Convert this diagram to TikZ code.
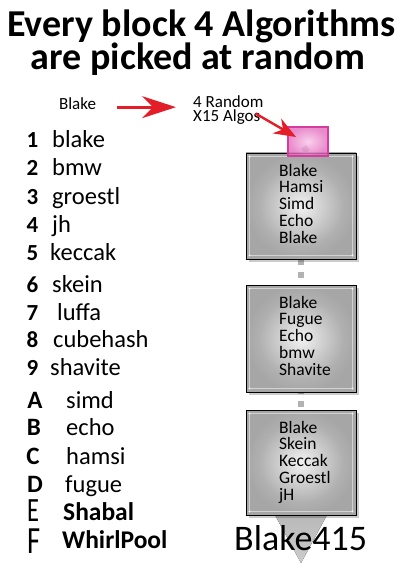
\documentclass[tikz,border=0pt]{standalone}
\usepackage{fontspec}
\setmainfont{Carlito}
\usetikzlibrary{arrows.meta,shadows,backgrounds}
\definecolor{arrowred}{RGB}{228,30,40}
\definecolor{pinkedge}{RGB}{214,60,160}
\definecolor{pinkin}{RGB}{248,196,232}
\definecolor{pinkout}{RGB}{226,110,190}
\definecolor{boxc}{RGB}{242,242,242}
\definecolor{boxm}{RGB}{210,210,210}
\definecolor{boxo}{RGB}{176,176,176}
\definecolor{boxe}{RGB}{166,166,166}
\pgfdeclareradialshading{boxglow}{\pgfpoint{0bp}{0bp}}{color(0bp)=(boxc); color(9bp)=(boxm); color(19bp)=(boxo); color(25bp)=(boxe); color(50bp)=(boxe)}
\begin{document}
\begin{tikzpicture}[x=1pt,y=-1pt,
  titletext/.style={font=\fontsize{38}{38}\selectfont\bfseries,anchor=base,inner sep=0pt},
  smalltext/.style={font=\fontsize{17}{14}\selectfont,inner sep=0pt},
  digitnum/.style={font=\fontsize{23}{23}\selectfont\bfseries,anchor=base,inner sep=0pt},
  letternum/.style={font=\fontsize{25}{25}\selectfont\bfseries,anchor=base,inner sep=0pt},
  thinletter/.style={anchor=base,inner sep=0pt},
  algoname/.style={font=\fontsize{24.5}{24.5}\selectfont,anchor=base west,inner sep=0pt},
  boldalgo/.style={font=\fontsize{25.5}{25.5}\selectfont\bfseries,anchor=base west,inner sep=0pt},
  blockbox/.style={draw=black,line width=0.9pt,shading=boxglow,
    minimum width=110pt,inner sep=0pt,
    drop shadow={shadow xshift=3pt,shadow yshift=-3pt,opacity=0.2,fill=black}},
  bevel/.style={draw=white,opacity=0.5,line width=0.6pt},
  beveldot/.style={fill=white,opacity=0.8},
  blocktext/.style={font=\fontsize{17.5}{16.75}\selectfont,align=left,anchor=base west,inner sep=0pt},
  chainlink/.style={draw=gray!60,line width=6pt,dash pattern=on 6pt off 7pt},
  redarrow/.style={draw=arrowred,fill=arrowred,line width=2.8pt},
]
\useasboundingbox (0,0) rectangle (403,572);

% title
\node[titletext] (t1) at (201.5,37) {Every block 4 Algorithms};
\node[titletext] (t2) at (198,70) {are picked at random};

% top labels
\node[smalltext,anchor=base] (bl) at (77.5,110) {Blake};
\node[smalltext,align=left,anchor=north west] (rnd) at (193,95) {4 Random\\X15 Algos};

% blocks
\node[blockbox,minimum height=106pt] (b1) at (301,206) {};
\node[blockbox,minimum height=107pt] (b2) at (301,338.5) {};
\node[blockbox,minimum height=105pt] (b3) at (301,462.5) {};
\foreach \b in {b1,b2,b3}{
  \draw[bevel] ([shift={(4pt,-4pt)}]\b.north west) rectangle ([shift={(-4pt,4pt)}]\b.south east);
  \fill[beveldot] ([shift={(4pt,-4pt)}]\b.north west) circle (1.1pt);
  \fill[beveldot] ([shift={(-4pt,-4pt)}]\b.north east) circle (1.1pt);
  \fill[beveldot] ([shift={(4pt,4pt)}]\b.south west) circle (1.1pt);
  \fill[beveldot] ([shift={(-4pt,4pt)}]\b.south east) circle (1.1pt);
}
\node[blocktext] (x1) at (279,243) {Blake\\Hamsi\\Simd\\Echo\\Blake};
\node[blocktext] (x2) at (279,375) {Blake\\Fugue\\Echo\\bmw\\Shavite};
\node[blocktext] (x3) at (279,500) {Blake\\Skein\\Keccak\\Groestl\\jH};

% pink selector
\node[draw=pinkedge,line width=2pt,inner color=pinkin,outer color=pinkout,fill opacity=0.8,
      minimum width=40pt,minimum height=29pt,inner sep=0pt] (p) at (308,141.5) {};

% connectors behind
\begin{scope}[on background layer]
  \draw[chainlink] ([yshift=-6pt]p.center) -- (b1.north);
  \draw[chainlink] (b1.south) -- (b2.north);
  \draw[chainlink,dash phase=4pt] (b2.south) -- (b3.north);
  \fill[top color=gray!55,bottom color=gray!40] (275,515) -- (327,515) -- (301,563) -- cycle;
\end{scope}

\node[font=\fontsize{36}{36}\selectfont,anchor=base west,inner sep=0pt] (res) at (234,550) {Blake415};

% red arrows
\draw[redarrow,shorten <=21pt,shorten >=17pt,-{Stealth[length=34pt,width=22pt,inset=11pt]}]
  ([yshift=-3pt]bl.east) -- ([yshift=-3pt]bl.east -| rnd.west);
\draw[redarrow,line width=2.4pt,-{Stealth[length=22pt,width=17pt,inset=7pt]}]
  ([shift={(-8pt,-4pt)}]rnd.east) -- ([shift={(9pt,-11pt)}]p.north west);

% list
\foreach \k/\y/\nm/\nx in {1/147.5/blake/52, 2/175.5/bmw/52, 3/204.5/groestl/52,
  4/232.5/jh/52, 5/260.5/keccak/50, 6/292.5/skein/52, 7/320.5/luffa/57,
  8/347.5/cubehash/53, 9/375.5/shavite/50}{
  \node[digitnum] (n\k) at (32.5,\y) {\k};
  \node[algoname] (a\k) at (\nx,\y) {\nm};
}
\foreach \k/\y/\nm/\lx/\nx in {A/408/simd/35/66, B/435/echo/34/66, C/464/hamsi/33/66, D/492/fugue/35/65}{
  \node[letternum] (n\k) at (\lx,\y) {\k};
  \node[algoname] (a\k) at (\nx,\y) {\nm};
}
\node[thinletter] (nE) at (33,521.5) {\scalebox{0.72}[1]{\fontsize{34}{34}\selectfont E}};
\node[boldalgo] (aE) at (63,520) {Shabal};
\node[thinletter] (nF) at (34,553) {\scalebox{0.74}[1]{\fontsize{38.5}{38.5}\selectfont F}};
\node[boldalgo] (aF) at (62,548) {WhirlPool};
\end{tikzpicture}
\end{document}
